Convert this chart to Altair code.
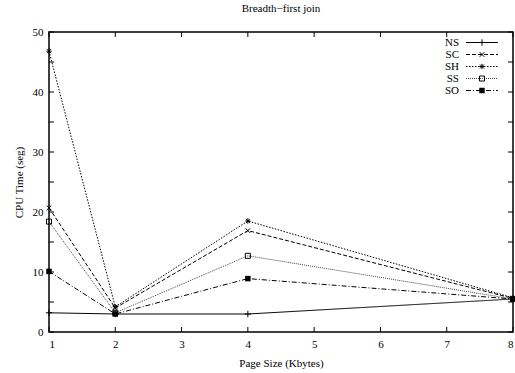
import altair as alt
import pandas as pd

# ---- data ----
page_sizes = [1, 2, 4, 8]
series_names = ["NS", "SC", "SH", "SS", "SO"]
ns_values = [3.2, 3.0, 3.0, 5.5]
sc_values = [20.7, 4.0, 16.9, 5.6]
sh_values = [46.8, 4.2, 18.5, 5.7]
ss_values = [18.4, 3.2, 12.7, 5.5]
so_values = [10.1, 3.0, 8.9, 5.5]
x_ticks = [1, 2, 3, 4, 5, 6, 7, 8]
y_ticks = [0, 5, 10, 15, 20, 25, 30, 35, 40, 45, 50]

values_by_series = {"NS": ns_values, "SC": sc_values, "SH": sh_values,
                    "SS": ss_values, "SO": so_values}

# ---- styles ----
PLUS = "M-1,0L1,0M0,-1L0,1"
CROSS = "M-1,-1L1,1M-1,1L1,-1"
STAR = "M-1,0L1,0M0,-1L0,1M-0.75,-0.75L0.75,0.75M-0.75,0.75L0.75,-0.75"
styles = {
    "NS": dict(dash=[1, 0], color="#000000", shape=PLUS, filled=False, size=40),
    "SC": dict(dash=[4, 2], color="#000000", shape=CROSS, filled=False, size=22),
    "SH": dict(dash=[1.5, 1.5], color="#000000", shape=STAR, filled=False, size=28),
    "SS": dict(dash=[1, 1], color="#444444", shape="square", filled=False, size=25),
    "SO": dict(dash=[5, 2, 1, 2], color="#000000", shape="square", filled=True, size=30),
}

W, H = 464, 300
FONT = "Liberation Serif"

x_scale = alt.Scale(domain=[1, 8], nice=False, zero=False)
y_scale = alt.Scale(domain=[0, 50], nice=False)

layers = []

# tick marks (inward, mirrored on all four sides)
xt = pd.DataFrame({"x": x_ticks})
yt = pd.DataFrame({"y": y_ticks})
layers.append(alt.Chart(xt).mark_rule(color="black", strokeWidth=1).encode(
    x=alt.X("x:Q", scale=x_scale), y=alt.value(H), y2=alt.value(H - 5)))
layers.append(alt.Chart(xt).mark_rule(color="black", strokeWidth=1).encode(
    x=alt.X("x:Q", scale=x_scale), y=alt.value(0), y2=alt.value(5)))
layers.append(alt.Chart(yt).mark_rule(color="black", strokeWidth=1).encode(
    y=alt.Y("y:Q", scale=y_scale), x=alt.value(0), x2=alt.value(5)))
layers.append(alt.Chart(yt).mark_rule(color="black", strokeWidth=1).encode(
    y=alt.Y("y:Q", scale=y_scale), x=alt.value(W), x2=alt.value(W - 5)))

for name in series_names:
    st = styles[name]
    df = pd.DataFrame({"page": page_sizes, "cpu": values_by_series[name], "series": name})
    xenc = alt.X("page:Q", scale=x_scale,
                 axis=alt.Axis(values=x_ticks, title="Page Size (Kbytes)", tickSize=0,
                               domain=False, grid=False, labelPadding=6, titlePadding=8,
                               labelFontSize=11, titleFontSize=11, labelFont=FONT,
                               titleFont=FONT, titleFontWeight="normal",
                               labelColor="black", titleColor="black", format="d"))
    yenc = alt.Y("cpu:Q", scale=y_scale,
                 axis=alt.Axis(values=y_ticks, title="CPU Time (seg)", tickSize=0,
                               domain=False, grid=False, labelPadding=6, titlePadding=8,
                               labelFontSize=11, titleFontSize=11, labelFont=FONT,
                               titleFont=FONT, titleFontWeight="normal",
                               labelColor="black", titleColor="black", format="d"))
    layers.append(alt.Chart(df).mark_line(color=st["color"], strokeWidth=1,
                                          strokeDash=st["dash"]).encode(x=xenc, y=yenc))
    layers.append(alt.Chart(df).mark_point(shape=st["shape"], filled=st["filled"],
                                           size=st["size"], color="black", opacity=1,
                                           strokeWidth=1).encode(x=xenc, y=yenc))

# key (gnuplot style: label then line sample with marker)
for i, name in enumerate(series_names):
    st = styles[name]
    ky = 10.5 + 12 * i
    kdf = pd.DataFrame({"series": [name]})
    layers.append(alt.Chart(kdf).mark_text(align="right", baseline="middle", font=FONT,
                                           fontSize=11, color="black").encode(
        text="series:N", x=alt.value(410), y=alt.value(ky)))
    layers.append(alt.Chart(kdf).mark_rule(color=st["color"], strokeWidth=1,
                                           strokeDash=st["dash"]).encode(
        x=alt.value(417), x2=alt.value(449), y=alt.value(ky)))
    layers.append(alt.Chart(kdf).mark_point(shape=st["shape"], filled=st["filled"],
                                            size=st["size"], color="black", opacity=1,
                                            strokeWidth=1).encode(
        x=alt.value(433), y=alt.value(ky)))

chart = alt.layer(*layers).properties(
    width=W, height=H,
    title=alt.Title("Breadth\u2212first join", font=FONT, fontSize=11,
                    fontWeight="normal", color="black", offset=12),
    autosize=alt.AutoSizeParams(type="none"),
    padding={"left": 49, "top": 32, "right": 2, "bottom": 41},
    background="white",
).configure_view(stroke="black", strokeWidth=1.5)

chart.save("out.html", embed_options={"renderer": "svg", "actions": False})
